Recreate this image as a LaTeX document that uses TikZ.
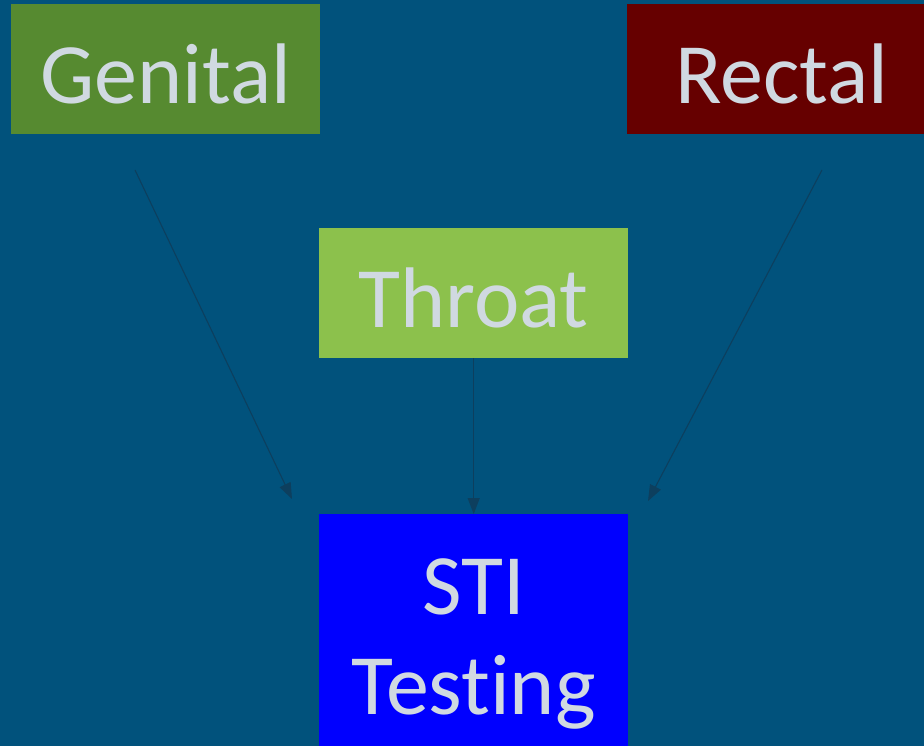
\documentclass[tikz,border=0pt]{standalone}
\usepackage{fontspec}
\setmainfont[Ligatures={NoCommon,NoRare}]{Carlito}
\usetikzlibrary{arrows.meta}
\definecolor{bg}{HTML}{01527C}
\definecolor{txt}{HTML}{D0D9E1}
\definecolor{gen}{HTML}{568A30}
\definecolor{rec}{HTML}{660000}
\definecolor{thr}{HTML}{8CC14C}
\definecolor{sti}{HTML}{0000FF}
\definecolor{arr}{HTML}{0D3F5E}
\tikzset{
  box/.style={rectangle, inner sep=0pt, minimum width=309pt, minimum height=130pt,
    text=txt, font=\fontsize{86}{100}\selectfont, align=center},
  oneline/.style={text height=80pt, text depth=12pt},
  conn/.style={draw=arr, line width=1.1pt, -{Triangle[length=16pt,width=12pt]}}
}
\begin{document}
\begin{tikzpicture}[x=1pt,y=-1pt]
\useasboundingbox (0,0) rectangle (924,746);
\fill[bg] (0,0) rectangle (924,746);
\clip (0,0) rectangle (924,746);
\node[box, oneline, fill=gen, anchor=north west] (genital) at (11,4) {Genital};
\node[box, oneline, fill=rec, anchor=north west] (rectal) at (627,4) {Rectal};
\node[box, oneline, fill=thr, anchor=north west] (throat) at (319,228) {Throat};
\node[box, fill=sti, anchor=north west, minimum height=260pt] (sti) at (319,514) {STI\\Testing};
\coordinate (g1) at (135,170);
\coordinate (g2) at (292,499);
\coordinate (r1) at (822,170);
\coordinate (r2) at (648,501);
\draw[conn] (g1) -- (g2);
\draw[conn] (r1) -- (r2);
\draw[conn] (throat.south) -- (sti.north);
\end{tikzpicture}
\end{document}
